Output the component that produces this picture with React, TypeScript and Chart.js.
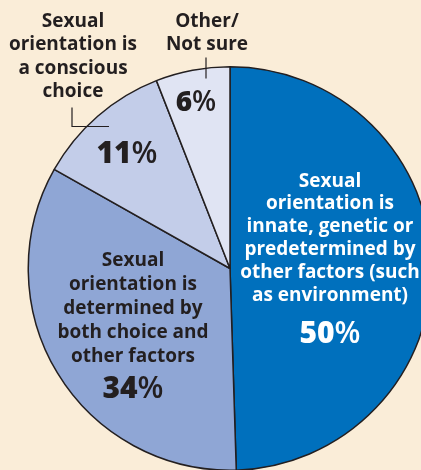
import React, { useEffect, useRef } from "react";
import { Chart, registerables } from "chart.js";

Chart.register(...registerables);

const categories = [
  "Innate, genetic or predetermined",
  "Both choice and other factors",
  "Conscious choice",
  "Other/Not sure",
];
const values = [50, 34, 11, 6];
const sliceColors = ["#0070BD", "#8FA6D5", "#C3CDE9", "#E0E4F3"];
const labelLines = [
  ["Sexual", "orientation is", "innate, genetic or", "predetermined by", "other factors (such", "as environment)"],
  ["Sexual", "orientation is", "determined by", "both choice and", "other factors"],
  ["Sexual", "orientation is", "a conscious", "choice"],
  ["Other/", "Not sure"],
];
const pctLabels = ["50", "34", "11", "6"];

const INK = "#231F20";
const BG = "#FAEDD8";
const FONT = '"Open Sans", "DejaVu Sans", sans-serif';

// label layout relative to the pie centre (px)
const layout = [
  { dx: 100, dy: -82, pdx: 100, pdy: 74, color: "#FFFFFF", lh: 22.8 },
  { dx: -97, dy: -3, pdx: -97, pdy: 129, color: INK, lh: 24 },
  { dx: -157, dy: -242, pdx: -103, pdy: -106, color: INK, lh: 23.5 },
  { dx: -23, dy: -242, pdx: -34, pdy: -158, color: INK, lh: 23 },
];

const labelPlugin = {
  id: "labels",
  afterDraw(chart: any) {
    const ctx = chart.ctx;
    const arc = chart.getDatasetMeta(0).data[0];
    if (!arc) return;
    const cx = arc.x;
    const cy = arc.y;
    ctx.save();
    ctx.textAlign = "center";
    ctx.textBaseline = "alphabetic";
    layout.forEach((l, i) => {
      ctx.fillStyle = l.color;
      ctx.font = `700 19px ${FONT}`;
      labelLines[i].forEach((line, k) => {
        ctx.fillText(line, cx + l.dx, cy + l.dy + k * l.lh);
      });
      // percentage: bold number + lighter %
      const num = pctLabels[i];
      const size = i === 3 ? 28 : 30;
      ctx.font = `800 ${size}px ${FONT}`;
      const wn = ctx.measureText(num).width;
      ctx.font = `600 ${size}px ${FONT}`;
      const wp = ctx.measureText("%").width;
      const start = cx + l.pdx - (wn + wp) / 2;
      ctx.textAlign = "left";
      ctx.font = `800 ${size}px ${FONT}`;
      ctx.fillText(num, start, cy + l.pdy);
      ctx.font = `600 ${size}px ${FONT}`;
      ctx.fillText("%", start + wn, cy + l.pdy);
      ctx.textAlign = "center";
    });
    // leader lines
    ctx.strokeStyle = INK;
    ctx.lineWidth = 1.2;
    ctx.beginPath();
    ctx.moveTo(cx - 158, cy - 161);
    ctx.lineTo(cx - 158, cy - 142);
    ctx.lineTo(cx - 121, cy - 142);
    ctx.stroke();
    ctx.beginPath();
    ctx.moveTo(cx - 24, cy - 211);
    ctx.lineTo(cx - 24, cy - 190);
    ctx.stroke();
    ctx.restore();
  },
};

export default function App() {
  const ref = useRef<HTMLCanvasElement>(null);
  useEffect(() => {
    if (!ref.current) return;
    const chart = new Chart(ref.current, {
      type: "pie",
      data: {
        labels: categories,
        datasets: [
          {
            data: values,
            backgroundColor: sliceColors,
            borderColor: INK,
            borderWidth: 1.5,
            hoverOffset: 0,
            offset: 0,
          },
        ],
      },
      options: {
        responsive: false,
        animation: false,
        events: [],
        layout: { padding: { top: 66, bottom: 0, left: 0, right: 0 } },
        plugins: {
          legend: { display: false },
          tooltip: { enabled: false },
        },
      },
      plugins: [labelPlugin],
    });
    return () => chart.destroy();
  }, []);
  return (
    <div
      style={{
        position: "fixed",
        left: 0,
        top: 0,
        width: 421,
        height: 470,
        overflow: "hidden",
        background: BG,
      }}
    >
      <canvas ref={ref} width={460} height={471} style={{ display: "block" }} />
    </div>
  );
}
